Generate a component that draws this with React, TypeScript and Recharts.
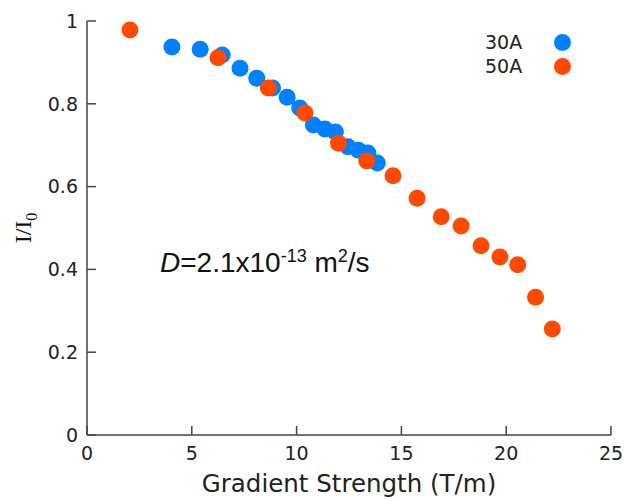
import React from "react";
import { ScatterChart, Scatter, XAxis, YAxis, Legend } from "recharts";

// gradient strength (T/m) and normalised intensity for each run
const gradient30 = [4.05, 5.4, 6.45, 7.3, 8.1, 8.85, 9.55, 10.15, 10.8, 11.35, 11.85, 12.45, 12.95, 13.4, 13.85];
const ratio30 = [0.937, 0.932, 0.918, 0.886, 0.862, 0.838, 0.816, 0.79, 0.749, 0.739, 0.732, 0.696, 0.688, 0.681, 0.657];

const gradient50 = [2.05, 6.25, 8.65, 10.4, 12.0, 13.35, 14.6, 15.75, 16.9, 17.85, 18.8, 19.7, 20.55, 21.4, 22.2];
const ratio50 = [0.978, 0.911, 0.838, 0.778, 0.705, 0.662, 0.626, 0.572, 0.527, 0.505, 0.457, 0.43, 0.411, 0.333, 0.256];

const xTicks = [0, 5, 10, 15, 20, 25];
const yTicks = [0, 0.2, 0.4, 0.6, 0.8, 1];

const BLUE = "#0080ff";
const ORANGE = "#ff4a00";
const AXIS = "#444";
const TICK_FONT = { fontSize: 19, fill: "#222", fontFamily: "DejaVu Sans" };

const toPoints = (xs: number[], ys: number[]) => xs.map((x, i) => ({ x, y: ys[i] }));
const data30 = toPoints(gradient30, ratio30);
const data50 = toPoints(gradient50, ratio50);

const dot = (color: string) => (props: any) => (
  <circle cx={props.cx} cy={props.cy} r={8.5} fill={color} />
);

const renderLegend = (props: any) => (
  <div style={{ fontFamily: "DejaVu Sans", fontSize: 19, color: "#222" }}>
    {(props.payload || []).map((p: any) => (
      <div key={p.value} style={{ display: "flex", alignItems: "center", height: 24 }}>
        <span style={{ width: 69 }}>{p.value}</span>
        <span style={{ width: 17, height: 17, borderRadius: "50%", background: p.color }} />
      </div>
    ))}
  </div>
);

export default function App() {
  return (
    <div style={{ position: "absolute", left: 0, top: 0, width: 627, height: 499, background: "#fff", overflow: "hidden" }}>
      <ScatterChart width={627} height={499} margin={{ top: 21, right: 16, left: 0, bottom: 0 }}>
        <XAxis
          dataKey="x"
          type="number"
          domain={[0, 25]}
          ticks={xTicks}
          height={64}
          stroke={AXIS}
          strokeWidth={1.5}
          tickSize={-9}
          tickMargin={21}
          tick={TICK_FONT}
          label={{
            value: "Gradient Strength (T/m)",
            position: "insideBottom",
            offset: 7,
            style: { fontSize: 24.5, fill: "#222", fontFamily: "DejaVu Sans" },
          }}
        />
        <XAxis xAxisId="top" orientation="top" type="number" domain={[0, 25]} ticks={xTicks} height={0} stroke={AXIS} strokeWidth={1.5} tickSize={-9} tick={false} />
        <YAxis
          dataKey="y"
          type="number"
          domain={[0, 1]}
          ticks={yTicks}
          width={87}
          stroke={AXIS}
          strokeWidth={1.5}
          tickSize={-9}
          tickMargin={18}
          tick={TICK_FONT}
        />
        <YAxis yAxisId="right" orientation="right" type="number" domain={[0, 1]} ticks={yTicks} width={0} stroke={AXIS} strokeWidth={1.5} tickSize={-9} tick={false} />
        <Legend
          layout="vertical"
          align="center"
          verticalAlign="middle"
          wrapperStyle={{ left: 485, top: 30, width: 100 }}
          content={renderLegend}
        />
        <Scatter name="30A" data={data30} fill={BLUE} shape={dot(BLUE)} isAnimationActive={false} />
        <Scatter name="50A" data={data50} fill={ORANGE} shape={dot(ORANGE)} isAnimationActive={false} />
      </ScatterChart>
      <div
        style={{
          position: "absolute",
          left: 23,
          top: 228,
          transform: "translate(-50%, -50%) rotate(-90deg)",
          fontFamily: "Liberation Serif",
          fontSize: 24,
          color: "#111",
          whiteSpace: "nowrap",
          lineHeight: "26px",
        }}
      >
        I/I<sub style={{ fontSize: 16, lineHeight: 0 }}>0</sub>
      </div>
      <div
        style={{
          position: "absolute",
          left: 160,
          top: 247,
          fontFamily: "Liberation Sans",
          fontSize: 28,
          lineHeight: "32px",
          color: "#111",
          whiteSpace: "nowrap",
        }}
      >
        <i>D</i>=2.1x10<sup style={{ fontSize: 18, lineHeight: 0 }}>-13</sup> m<sup style={{ fontSize: 18, lineHeight: 0 }}>2</sup>/s
      </div>
    </div>
  );
}
